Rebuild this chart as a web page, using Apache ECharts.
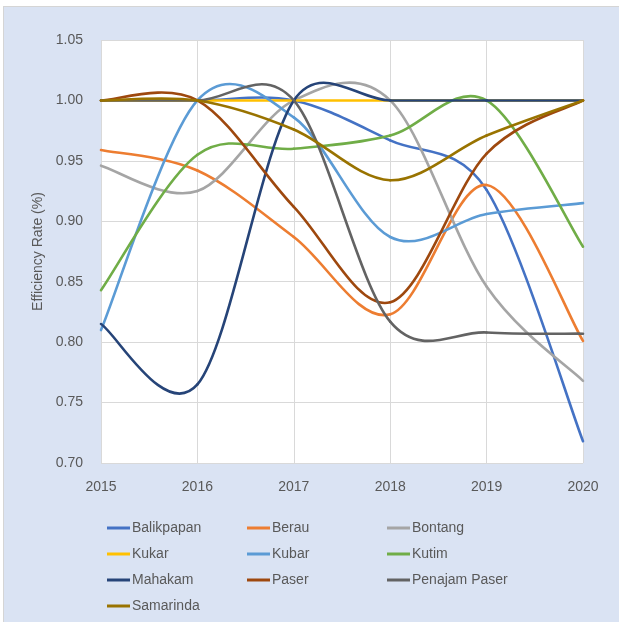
<!DOCTYPE html>
<html>
<head>
<meta charset="utf-8">
<script src="https://cdn.jsdelivr.net/npm/echarts@6/dist/echarts.min.js"></script>
<style>
html,body{margin:0;padding:0;background:#ffffff;width:619px;height:622px;overflow:hidden;}
#bg{position:absolute;left:3px;top:6px;width:620px;height:620px;background:#dae3f3;border:1px solid #d5d5d5;}
#chart{position:absolute;left:0;top:0;width:619px;height:622px;}
</style>
</head>
<body>
<div id="bg"></div>
<div id="chart"></div>
<script>
var years = ['2015','2016','2017','2018','2019','2020'];
var balikpapan   = [1.000, 1.000, 1.000, 0.967, 0.926, 0.718];
var berau        = [0.959, 0.942, 0.887, 0.823, 0.930, 0.801];
var bontang      = [0.946, 0.925, 1.000, 1.000, 0.846, 0.768];
var kukar        = [1.000, 1.000, 1.000, 1.000, 1.000, 1.000];
var kubar        = [0.810, 1.000, 0.986, 0.887, 0.906, 0.915];
var kutim        = [0.843, 0.955, 0.960, 0.971, 1.000, 0.879];
var mahakam      = [0.815, 0.765, 1.000, 1.000, 1.000, 1.000];
var paser        = [1.000, 1.000, 0.912, 0.833, 0.956, 1.000];
var penajamPaser = [1.000, 1.000, 1.000, 0.817, 0.808, 0.807];
var samarinda    = [1.000, 1.000, 0.976, 0.934, 0.971, 1.000];
var yTicks = [0.70, 0.75, 0.80, 0.85, 0.90, 0.95, 1.00, 1.05];

var seriesDefs = [
  ['Balikpapan', balikpapan, '#4472C4'],
  ['Berau', berau, '#ED7D31'],
  ['Bontang', bontang, '#A5A5A5'],
  ['Kukar', kukar, '#FFC000'],
  ['Kubar', kubar, '#5B9BD5'],
  ['Kutim', kutim, '#70AD47'],
  ['Mahakam', mahakam, '#264478'],
  ['Paser', paser, '#9E480E'],
  ['Penajam Paser', penajamPaser, '#636363'],
  ['Samarinda', samarinda, '#997300']
];

var font = '"Liberation Sans", Arial, sans-serif';
var txt = '#595959';

function dist(a, b){ return Math.sqrt((a[0]-b[0])*(a[0]-b[0]) + (a[1]-b[1])*(a[1]-b[1])); }

// Excel-style smoothed line (Bezier, tension 1/6 with arm cap)
function excelSegments(pts){
  var segs = [];
  var n = pts.length;
  for (var i = 0; i < n - 1; i++){
    var P0 = pts[Math.max(i-1, 0)], P1 = pts[i], P2 = pts[i+1], P3 = pts[Math.min(i+2, n-1)];
    var d02 = dist(P0, P2), d12 = dist(P1, P2), d13 = dist(P1, P3);
    var f1 = 1/6, f2 = 1/6;
    if (d02 > 0 && d02/6 >= d12/2) f1 = d12 / d02 / 2;
    if (d13 > 0 && d13/6 >= d12/2) f2 = d12 / d13 / 2;
    segs.push({
      x1: P1[0], y1: P1[1], x2: P2[0], y2: P2[1],
      cpx1: P1[0] + f1*(P2[0]-P0[0]), cpy1: P1[1] + f1*(P2[1]-P0[1]),
      cpx2: P2[0] - f2*(P3[0]-P1[0]), cpy2: P2[1] - f2*(P3[1]-P1[1])
    });
  }
  return segs;
}

var series = seriesDefs.map(function(d, i){
  var vals = d[1], color = d[2];
  return {
    name: d[0], type: 'custom', z: 2 + i,
    data: vals.map(function(v, k){ return [k, v]; }),
    encode: {x: 0, y: 1},
    itemStyle: {color: color},
    clip: false,
    renderItem: function(params, api){
      if (params.dataIndex !== 0) return null;
      var pts = vals.map(function(v, k){ return api.coord([k, v]); });
      var segs = excelSegments(pts);
      return {
        type: 'group',
        children: segs.map(function(s){
          return {type: 'bezierCurve', shape: s,
            style: {fill: null, stroke: color, lineWidth: 2.6, lineCap: 'round'}};
        })
      };
    }
  };
});

function legendCol(names, left){
  return {
    orient: 'vertical', left: left, top: 515, padding: 0, itemGap: 0,
    icon: 'rect', itemWidth: 23, itemHeight: 3,
    data: names,
    textStyle: {fontFamily: font, fontSize: 14, color: txt, lineHeight: 26, padding: [0,0,0,-3]}
  };
}

var chart = echarts.init(document.getElementById('chart'), null, {renderer: 'canvas'});
chart.setOption({
  backgroundColor: 'transparent',
  animation: false,
  grid: {left: 101, right: 36, top: 40, bottom: 159, show: true, backgroundColor: '#ffffff', borderWidth: 0},
  legend: [
    legendCol(['Balikpapan','Kukar','Mahakam','Samarinda'], 107),
    legendCol(['Berau','Kubar','Paser'], 247),
    legendCol(['Bontang','Kutim','Penajam Paser'], 387)
  ],
  xAxis: {
    type: 'category', data: years, boundaryGap: false,
    axisLine: {show: false}, axisTick: {show: false},
    axisLabel: {fontFamily: font, fontSize: 14, color: txt, margin: 17},
    splitLine: {show: true, lineStyle: {color: '#d9d9d9', width: 1}}
  },
  yAxis: {
    type: 'value', min: yTicks[0], max: yTicks[yTicks.length-1], interval: 0.05,
    name: 'Efficiency Rate (%)', nameLocation: 'middle', nameGap: 49,
    nameTextStyle: {fontFamily: font, fontSize: 14, color: txt},
    axisLine: {show: false}, axisTick: {show: false},
    axisLabel: {fontFamily: font, fontSize: 14, color: txt, margin: 18,
      formatter: function(v){ return v.toFixed(2); }},
    splitLine: {show: true, lineStyle: {color: '#d9d9d9', width: 1}}
  },
  series: series
});
</script>
</body>
</html>
